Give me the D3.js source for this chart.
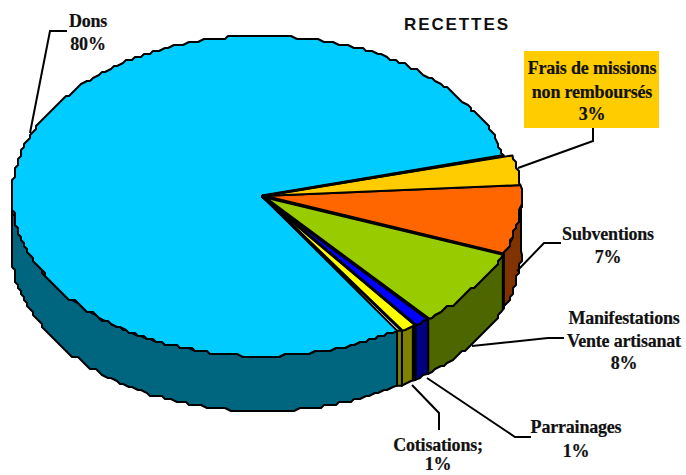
<!DOCTYPE html>
<html>
<head>
<meta charset="utf-8">
<script src="https://cdn.jsdelivr.net/npm/d3@7"></script>
<style>
  html, body { margin: 0; padding: 0; background: #fff; }
  svg { display: block; }
  .label { font-family: "Liberation Serif", serif; font-weight: bold; font-size: 18px; letter-spacing: -0.2px; fill: #111; text-anchor: middle; stroke: #111; stroke-width: 0.2px; }
  .title { font-family: "Liberation Sans", sans-serif; font-weight: bold; font-size: 17px; letter-spacing: 1.9px; fill: #111; }
</style>
</head>
<body>
<div id="chart"></div>
<script>
// data, clockwise starting at the Frais slice
const names = ["Frais de missions", "Subventions", "Manifestations", "Parrainages", "Cotisations", "Dons"];
const values = [3, 7, 8, 1, 1, 80];
const topColors = ["#ffcc00", "#ff6600", "#99cc00", "#0000ff", "#ffff00", "#00ccff"];
const sideColors = ["#806600", "#803300", "#4d6600", "#000080", "#808000", "#006680"];

// text lines for each label, same order as names
const labelLines = [
  ["Frais de missions", "non remboursés", "3%"],
  ["Subventions", "7%"],
  ["Manifestations", "Vente artisanat", "8%"],
  ["Parrainages", "1%"],
  ["Cotisations;", "1%"],
  ["Dons", "80%"]
];

const width = 686;
const height = 475;

// pie geometry: the ellipse is a tilted circle
const cx = 262;
const cy = 196;
const ry = 160;
const depth = 55;
const rxDons = 250;
const rxOther = 259;
const rad = d => d * Math.PI / 180;

const svg = d3.select("#chart")
  .append("svg")
  .attr("width", width)
  .attr("height", height)
  .attr("viewBox", [0, 0, width, height]);

// slices from d3.pie, angles are clockwise from 12 o'clock
const pie = d3.pie()
  .sort(null)
  .value(d => d.value)
  .startAngle(rad(75.3))
  .endAngle(rad(75.3 + 360));

const slices = pie(names.map((name, i) => ({name, value: values[i], i})));

const rxOf = d => d.data.name === "Dons" ? rxDons : rxOther;

// round to a coarse grid so the edges have the stepped look of the original
const snap = v => Math.round(v / 3) * 3;

function edgePoints(a0, a1, rx, dy) {
  const n = Math.max(1, Math.round((a1 - a0) / rad(1.2)));
  return d3.range(n + 1).map(k => {
    const a = a0 + (a1 - a0) * k / n;
    const onEnd = k === 0 || k === n;
    const x = cx + rx * Math.sin(a);
    const y = cy - ry * Math.cos(a) + dy;
    return onEnd ? [x, y] : [snap(x), snap(y)];
  });
}

const line = d3.line();

// side walls, only the front half of the ellipse is visible
const walls = svg.append("g");
slices.forEach(d => {
  const a0 = Math.max(d.startAngle, rad(90));
  const a1 = Math.min(d.endAngle, rad(270));
  if (a1 <= a0) return;
  const rx = rxOf(d);
  walls.append("path")
    .attr("d", line(edgePoints(a0, a1, rx, 0).concat(edgePoints(a0, a1, rx, depth).reverse())) + "Z")
    .attr("fill", sideColors[d.data.i])
    .attr("stroke", "#000")
    .attr("stroke-width", 2)
    .attr("stroke-linejoin", "round");
});

// cut face showing where the Cotisations slice sticks out past Dons
const cot = slices[names.indexOf("Cotisations")];
const cutTop = [rxDons, rxOther].map(rx => [cx + rx * Math.sin(cot.endAngle), cy - ry * Math.cos(cot.endAngle)]);
walls.append("path")
  .attr("d", line([cutTop[0], cutTop[1], [cutTop[1][0], cutTop[1][1] + depth], [cutTop[0][0], cutTop[0][1] + depth]]) + "Z")
  .attr("fill", sideColors[cot.data.i])
  .attr("stroke", "#000")
  .attr("stroke-width", 2);

// thicker dividers on the walls
["Subventions", "Parrainages"].forEach(name => {
  const d = slices[names.indexOf(name)];
  const a = d.endAngle;
  const x = cx + rxOther * Math.sin(a);
  const y = cy - ry * Math.cos(a);
  const shift = name === "Parrainages" ? -1.5 : 0;
  walls.append("line")
    .attr("x1", x + shift).attr("y1", y)
    .attr("x2", x + shift).attr("y2", y + depth)
    .attr("stroke", "#000")
    .attr("stroke-width", name === "Parrainages" ? 4 : 3);
});

// top faces, Dons first so the others sit over it
const tops = svg.append("g");
slices.slice().reverse().forEach(d => {
  tops.append("path")
    .attr("d", line([[cx, cy]].concat(edgePoints(d.startAngle, d.endAngle, rxOf(d), 0))) + "Z")
    .attr("fill", topColors[d.data.i])
    .attr("stroke", "#000")
    .attr("stroke-width", 2)
    .attr("stroke-linejoin", "round");
});

// thicker radial lines between slices
["Subventions", "Manifestations", "Parrainages", "Cotisations"].forEach(name => {
  const d = slices[names.indexOf(name)];
  tops.append("line")
    .attr("x1", cx).attr("y1", cy)
    .attr("x2", cx + rxOther * Math.sin(d.endAngle))
    .attr("y2", cy - ry * Math.cos(d.endAngle))
    .attr("stroke", "#000")
    .attr("stroke-width", name === "Subventions" || name === "Manifestations" ? 3.5 : 3);
});
tops.append("line")
  .attr("x1", cx).attr("y1", cy)
  .attr("x2", cx + rxDons * Math.sin(slices[0].startAngle))
  .attr("y2", cy - ry * Math.cos(slices[0].startAngle))
  .attr("stroke", "#000")
  .attr("stroke-width", 3);

// leader lines, same order as names
const leaders = [
  [[518, 168], [593, 141], [593, 128]],
  [[517, 271], [544, 243], [561, 243]],
  [[472, 346], [548, 338], [564, 338]],
  [[427, 378], [515, 437], [531, 437]],
  [[412, 385], [439, 413], [439, 430]],
  [[30, 133], [50, 31], [67, 31]]
];

svg.append("g")
  .selectAll("path")
  .data(leaders)
  .join("path")
  .attr("d", d => line(d))
  .attr("fill", "none")
  .attr("stroke", "#000")
  .attr("stroke-width", 2);

// yellow box behind the Frais label
svg.append("rect")
  .attr("x", 524)
  .attr("y", 51)
  .attr("width", 135)
  .attr("height", 77)
  .attr("fill", topColors[0]);

// label anchor (centre x) and the baseline of each line
const labelX = [592, 608, 624, 576, 438, 88];
const labelY = [[74, 98, 120], [240, 263], [324, 347, 369], [433, 457], [451, 470], [27, 50]];

labelLines.forEach((lines, i) => {
  svg.append("g")
    .selectAll("text")
    .data(lines)
    .join("text")
    .attr("class", "label")
    .attr("x", labelX[i])
    .attr("y", (d, k) => labelY[i][k])
    .text(d => d);
});

svg.append("text")
  .attr("class", "title")
  .attr("x", 404)
  .attr("y", 30)
  .text("RECETTES");
</script>
</body>
</html>
